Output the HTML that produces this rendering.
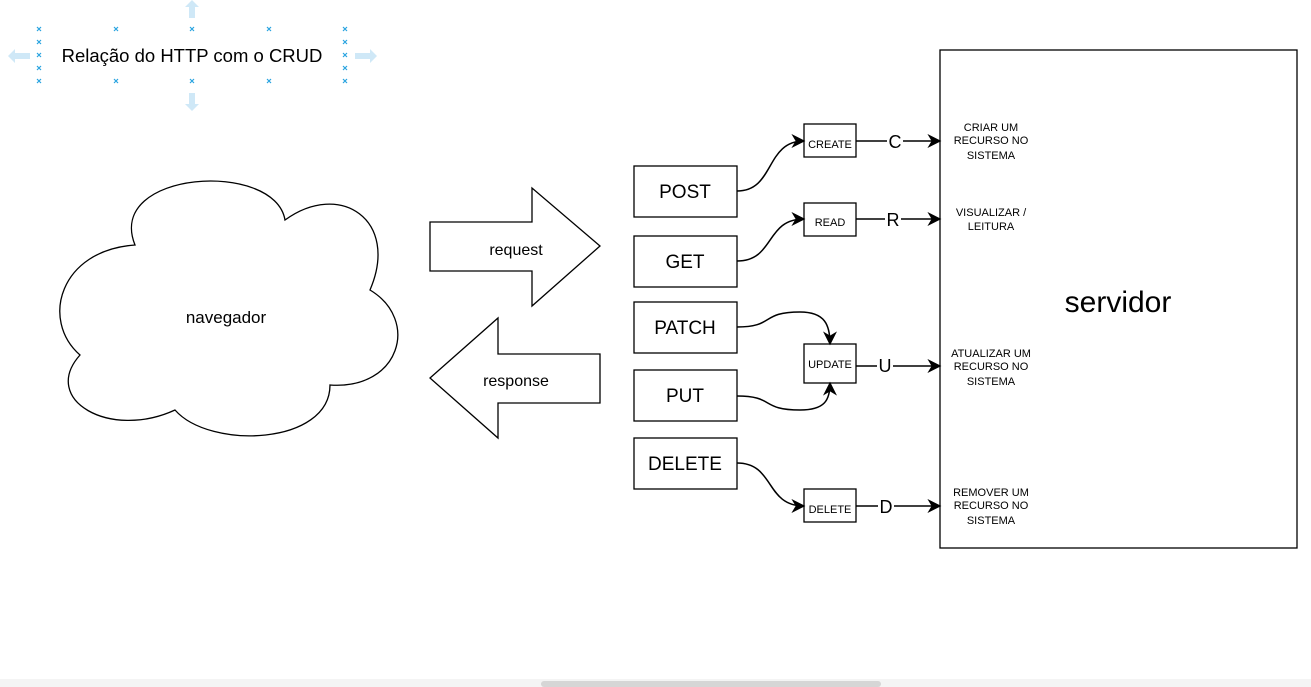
<!DOCTYPE html>
<html><head><meta charset="utf-8"><style>
html,body{margin:0;padding:0;background:#fff;}
svg{display:block;font-family:"Liberation Sans",Arial,sans-serif;}
</style></head><body>
<svg width="1311" height="687" viewBox="0 0 1311 687" xmlns="http://www.w3.org/2000/svg">
<defs>
<marker id="a" viewBox="0 0 10 10" refX="9" refY="5" markerWidth="14" markerHeight="14" orient="auto" markerUnits="userSpaceOnUse"><path d="M0,0 L10,5 L0,10 L3,5 z" fill="#000"/></marker>
</defs>
<g fill="#cfe8f7">
<path d="M192,0 L199,7 L195,7 L195,18 L189,18 L189,7 L185,7 z"/>
<path d="M192,111 L199,104 L195,104 L195,93 L189,93 L189,104 L185,104 z"/>
<path d="M8,56 L15,49 L15,53 L30,53 L30,59 L15,59 L15,63 z"/>
<path d="M377,56 L370,49 L370,53 L355,53 L355,59 L370,59 L370,63 z"/>
</g>
<g stroke="#29a3e0" stroke-width="1.2">
<path d="M37,27l4,4m0,-4l-4,4 M114,27l4,4m0,-4l-4,4 M190,27l4,4m0,-4l-4,4 M267,27l4,4m0,-4l-4,4 M343,27l4,4m0,-4l-4,4
M37,79l4,4m0,-4l-4,4 M114,79l4,4m0,-4l-4,4 M190,79l4,4m0,-4l-4,4 M267,79l4,4m0,-4l-4,4 M343,79l4,4m0,-4l-4,4
M37,40l4,4m0,-4l-4,4 M37,53l4,4m0,-4l-4,4 M37,66l4,4m0,-4l-4,4
M343,40l4,4m0,-4l-4,4 M343,53l4,4m0,-4l-4,4 M343,66l4,4m0,-4l-4,4"/>
</g>
<text x="192" y="62" font-size="18.5" text-anchor="middle">Relação do HTTP com o CRUD</text>

<path d="M135,245 C105,170 275,160 285,220 C340,180 400,220 370,290 C420,320 400,390 330,385 C330,445 210,450 175,410 C110,440 40,400 80,355 C40,320 60,250 135,245 z" fill="#fff" stroke="#000" stroke-width="1.3"/>
<text x="226" y="323" font-size="17" text-anchor="middle">navegador</text>

<path d="M430,222 L532,222 L532,188 L600,246 L532,306 L532,271 L430,271 z" fill="#fff" stroke="#000" stroke-width="1.3"/>
<text x="516" y="255" font-size="16" text-anchor="middle">request</text>
<path d="M600,354 L498,354 L498,318 L430,378 L498,438 L498,403 L600,403 z" fill="#fff" stroke="#000" stroke-width="1.3"/>
<text x="516" y="386" font-size="16" text-anchor="middle">response</text>

<g fill="#fff" stroke="#000" stroke-width="1.3">
<rect x="634" y="166" width="103" height="51"/>
<rect x="634" y="236" width="103" height="51"/>
<rect x="634" y="302" width="103" height="51"/>
<rect x="634" y="370" width="103" height="51"/>
<rect x="634" y="438" width="103" height="51"/>
<rect x="804" y="124" width="52" height="33"/>
<rect x="804" y="203" width="52" height="33"/>
<rect x="804" y="344" width="52" height="39"/>
<rect x="804" y="489" width="52" height="33"/>
<rect x="940" y="50" width="357" height="498"/>
</g>
<g font-size="19" text-anchor="middle">
<text x="685" y="198">POST</text>
<text x="685" y="268">GET</text>
<text x="685" y="334">PATCH</text>
<text x="685" y="402">PUT</text>
<text x="685" y="470">DELETE</text>
</g>
<g font-size="11" text-anchor="middle">
<text x="830" y="148">CREATE</text>
<text x="830" y="226">READ</text>
<text x="830" y="368">UPDATE</text>
<text x="830" y="513">DELETE</text>
</g>
<text x="1118" y="312" font-size="30" text-anchor="middle">servidor</text>

<g fill="none" stroke="#000" stroke-width="1.5" marker-end="url(#a)">
<path d="M737,191 C775,191 765,141 804,141"/>
<path d="M737,261 C775,261 765,219 804,219"/>
<path d="M737,327 C775,327 760,312 800,312 C825,312 830,325 830,344"/>
<path d="M737,396 C775,396 760,410 800,410 C825,410 830,400 830,383"/>
<path d="M737,463 C775,463 765,506 804,506"/>
<path d="M856,141 L940,141"/>
<path d="M856,219 L940,219"/>
<path d="M856,366 L940,366"/>
<path d="M856,506 L940,506"/>
</g>
<g font-size="18" text-anchor="middle">
<rect x="887" y="130" width="16" height="22" fill="#fff"/><text x="895" y="148">C</text>
<rect x="885" y="208" width="16" height="22" fill="#fff"/><text x="893" y="226">R</text>
<rect x="877" y="355" width="16" height="22" fill="#fff"/><text x="885" y="372">U</text>
<rect x="878" y="495" width="16" height="22" fill="#fff"/><text x="886" y="513">D</text>
</g>
<g font-size="11" text-anchor="middle">
<text x="991" y="131">CRIAR UM</text><text x="991" y="144">RECURSO NO</text><text x="991" y="159">SISTEMA</text>
<text x="991" y="216">VISUALIZAR /</text><text x="991" y="230">LEITURA</text>
<text x="991" y="357">ATUALIZAR UM</text><text x="991" y="370">RECURSO NO</text><text x="991" y="385">SISTEMA</text>
<text x="991" y="496">REMOVER UM</text><text x="991" y="509">RECURSO NO</text><text x="991" y="524">SISTEMA</text>
</g>

<rect x="0" y="679" width="1311" height="8" fill="#f4f4f4"/>
<rect x="541" y="681" width="340" height="6" rx="3" fill="#d6d6d6"/>
</svg>
</body></html>
